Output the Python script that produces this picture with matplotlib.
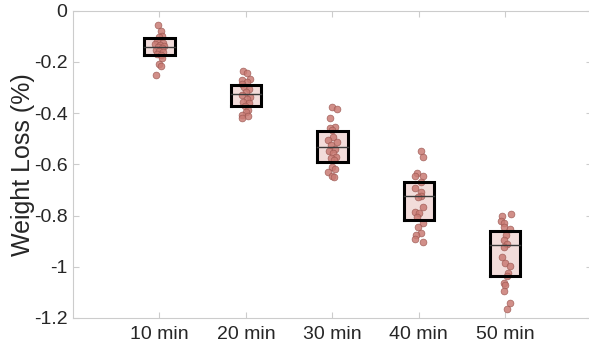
import numpy as np
import matplotlib.pyplot as plt

labels = ['10 min', '20 min', '30 min', '40 min', '50 min']

wl_10 = [-0.058, -0.079, -0.100, -0.105, -0.119, -0.125, -0.131, -0.135, -0.139, -0.142,
         -0.146, -0.154, -0.158, -0.162, -0.168, -0.174, -0.184, -0.210, -0.217, -0.252]
wl_20 = [-0.235, -0.243, -0.267, -0.271, -0.279, -0.287, -0.300, -0.308, -0.317, -0.330,
         -0.336, -0.347, -0.356, -0.362, -0.373, -0.388, -0.397, -0.408, -0.412, -0.421]
wl_30 = [-0.378, -0.386, -0.418, -0.456, -0.460, -0.466, -0.492, -0.505, -0.512, -0.525,
         -0.542, -0.547, -0.557, -0.571, -0.577, -0.583, -0.612, -0.617, -0.631, -0.646, -0.651]
wl_40 = [-0.548, -0.571, -0.633, -0.646, -0.646, -0.668, -0.694, -0.707, -0.724, -0.726,
         -0.766, -0.785, -0.789, -0.805, -0.830, -0.844, -0.870, -0.876, -0.890, -0.905]
wl_50 = [-0.794, -0.801, -0.821, -0.830, -0.846, -0.854, -0.876, -0.896, -0.911, -0.922,
         -0.963, -0.987, -0.997, -1.023, -1.036, -1.062, -1.071, -1.093, -1.143, -1.164]

# horizontal jitter of each dot (x units)
jit_10 = [-0.02, 0.02, 0.03, -0.01, -0.03, 0.04, -0.05, 0.01, 0.05, -0.02,
          0.03, -0.04, 0.00, 0.04, -0.03, 0.02, 0.03, -0.01, 0.02, -0.04]
jit_20 = [-0.03, 0.01, 0.05, -0.04, 0.01, -0.05, -0.02, 0.04, 0.00, -0.05,
          0.05, 0.01, -0.03, 0.03, -0.01, 0.02, 0.00, -0.04, 0.02, -0.05]
jit_30 = [0.00, 0.05, -0.03, 0.03, -0.03, 0.00, 0.01, -0.05, 0.05, -0.02,
          0.03, -0.04, 0.01, 0.04, -0.02, 0.02, -0.01, 0.03, -0.05, -0.01, 0.02]
jit_40 = [0.03, 0.05, -0.02, -0.05, 0.05, 0.03, -0.04, 0.02, 0.03, -0.01,
          0.05, -0.04, 0.00, -0.02, 0.05, -0.01, 0.03, -0.03, -0.05, 0.05]
jit_50 = [0.06, -0.04, -0.05, -0.02, -0.01, 0.05, 0.01, -0.02, 0.02, -0.02,
          -0.04, 0.00, 0.05, 0.03, 0.02, -0.02, 0.00, -0.01, 0.05, 0.02]

# box limits (25th pct, median, 75th pct)
q1 = [-0.175, -0.373, -0.590, -0.817, -1.036]
med = [-0.143, -0.326, -0.532, -0.723, -0.916]
q3 = [-0.109, -0.290, -0.471, -0.669, -0.862]

groups = [wl_10, wl_20, wl_30, wl_40, wl_50]
jitters = [jit_10, jit_20, jit_30, jit_40, jit_50]

plt.rcParams['font.family'] = ['Liberation Sans', 'DejaVu Sans']

fig = plt.figure(figsize=(5.89, 3.49), dpi=100)
ax = fig.add_axes([73 / 589, 31 / 349, 518.8 / 589, 307.5 / 349])

hw = 0.175  # half box width
for i, (vals, jit) in enumerate(zip(groups, jitters)):
    pos = i + 1
    ax.fill_between([pos - hw, pos + hw], q1[i], q3[i], color='#f2dcda', zorder=1, lw=0)
    ax.scatter(pos + np.array(jit), vals, s=24, color='#c97b74', edgecolor='#9a5650',
               linewidth=0.5, alpha=0.85, zorder=2)
    ax.plot([pos - hw, pos + hw, pos + hw, pos - hw, pos - hw],
            [q1[i], q1[i], q3[i], q3[i], q1[i]], color='black', lw=2.2, zorder=3,
            solid_joinstyle='miter')
    ax.plot([pos - hw, pos + hw], [med[i], med[i]], color='#3a3a3a', lw=1.0, zorder=3)

ax.set_xlim(0, 6)
ax.set_ylim(-1.2, 0)
ax.set_xticks([1, 2, 3, 4, 5])
ax.set_xticklabels(labels)
yt = [-1.2, -1, -0.8, -0.6, -0.4, -0.2, 0]
ax.set_yticks(yt)
ax.set_yticklabels(['-1.2', '-1', '-0.8', '-0.6', '-0.4', '-0.2', '0'])
ax.set_ylabel('Weight Loss (%)', fontsize=18, color='#262626', labelpad=-1)

for sp in ax.spines.values():
    sp.set_color('#cccccc')
    sp.set_linewidth(0.8)
ax.tick_params(direction='in', length=4, width=0.8, color='#cccccc', labelcolor='#262626',
               labelsize=14, top=True, right=True)
ax.tick_params(axis='y', pad=4)
ax.tick_params(axis='x', pad=6)

fig.savefig('out.png', dpi=100)
